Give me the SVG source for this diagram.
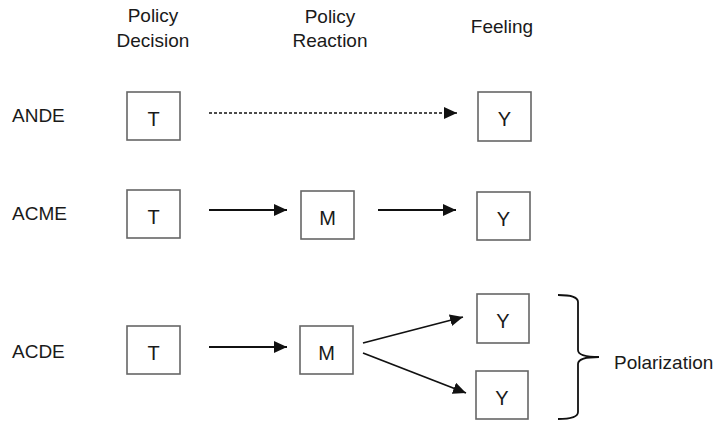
<svg xmlns="http://www.w3.org/2000/svg" width="725" height="421" viewBox="0 0 725 421">
<defs>
<style>
text{font-family:"Liberation Sans",Arial,sans-serif;font-size:19px;fill:#1a1a1a}
.c{text-anchor:middle}
.v{font-size:20px}
.box{fill:#fff;stroke:#666;stroke-width:1.6}
.ar{stroke:#111;stroke-width:1.8;fill:none;marker-end:url(#ah)}
.dash{stroke-dasharray:3 2;stroke-width:1.6}
</style>
<marker id="ah" markerUnits="userSpaceOnUse" markerWidth="14" markerHeight="12" refX="13" refY="6" orient="auto">
<path d="M0,0 L13,6 L0,12 Z" fill="#111"/>
</marker>
</defs>
<rect width="725" height="421" fill="#fff"/>
<g id="headers">
<text class="c" x="153" y="22">Policy</text>
<text class="c" x="153" y="47">Decision</text>
<text class="c" x="330" y="23">Policy</text>
<text class="c" x="330" y="47">Reaction</text>
<text class="c" x="502" y="33">Feeling</text>
</g>
<g id="row-labels">
<text x="12" y="122">ANDE</text>
<text x="12" y="220">ACME</text>
<text x="12" y="358">ACDE</text>
</g>
<g id="connectors">
<line class="ar dash" x1="209" y1="113" x2="457" y2="113"/>
<line class="ar" x1="209" y1="210" x2="287" y2="210"/>
<line class="ar" x1="378" y1="210" x2="456" y2="210"/>
<line class="ar" x1="209" y1="347" x2="287" y2="347"/>
<line class="ar" x1="363" y1="343" x2="463" y2="317"/>
<line class="ar" x1="363" y1="353" x2="466" y2="393"/>
</g>
<g id="ande-T"><rect class="box" x="127" y="92" width="53" height="48"/><text class="c v" x="153.5" y="126">T</text></g>
<g id="ande-Y"><rect class="box" x="478" y="92" width="53" height="49"/><text class="c v" x="504.5" y="126">Y</text></g>
<g id="acme-T"><rect class="box" x="127" y="190" width="53" height="48"/><text class="c v" x="153.5" y="224">T</text></g>
<g id="acme-M"><rect class="box" x="301" y="191" width="53" height="48"/><text class="c v" x="327.5" y="225">M</text></g>
<g id="acme-Y"><rect class="box" x="477" y="192" width="53" height="48"/><text class="c v" x="503.5" y="226">Y</text></g>
<g id="acde-T"><rect class="box" x="127" y="326" width="53" height="48"/><text class="c v" x="153.5" y="360">T</text></g>
<g id="acde-M"><rect class="box" x="300" y="326" width="53" height="48"/><text class="c v" x="326.5" y="360">M</text></g>
<g id="acde-Y1"><rect class="box" x="477" y="294" width="52" height="49"/><text class="c v" x="503" y="328">Y</text></g>
<g id="acde-Y2"><rect class="box" x="476" y="371" width="52" height="48"/><text class="c v" x="502" y="405">Y</text></g>
<g id="polarization">
<path d="M558,295 Q578,295 578,302 L578,350 Q578,357 599,357 Q578,357 578,364 L578,412 Q578,419 558,419" fill="none" stroke="#111" stroke-width="1.8"/>
<text x="614" y="369">Polarization</text>
</g>
</svg>
